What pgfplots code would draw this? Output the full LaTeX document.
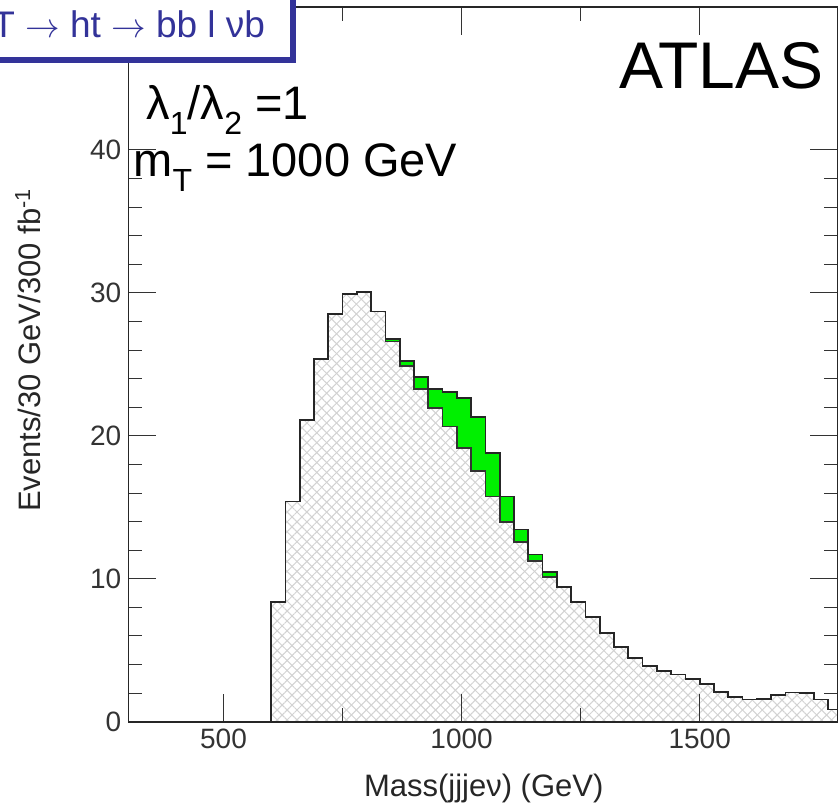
\documentclass[border=0pt]{standalone}
\usepackage{fontspec}
\setmainfont{Liberation Sans}
\usepackage{pgfplots}
\pgfplotsset{compat=1.18}
\usepackage{pgfplotstable}
\usetikzlibrary{patterns.meta}

\definecolor{sig}{RGB}{0,240,0}
\definecolor{boxblue}{RGB}{51,51,153}
\newcommand{\sub}[1]{\raisebox{-0.3em}{\fontsize{16}{16}\selectfont #1}}

% bin left edges (30 GeV), background and background+signal
\pgfplotstableread{
x bg tot
300 0 0
600 8.4 8.4
630 15.4 15.4
660 21.1 21.1
690 25.4 25.4
720 28.5 28.5
750 29.95 29.95
780 30.05 30.05
810 28.7 28.7
840 26.6 26.75
870 24.9 25.25
900 23.3 24.1
930 21.95 23.3
960 20.65 23.05
990 19.15 22.65
1020 17.55 21.3
1050 15.75 18.8
1080 13.95 15.75
1110 12.55 13.45
1140 11.25 11.7
1170 10.15 10.45
1200 9.4 9.4
1230 8.35 8.35
1260 7.3 7.3
1290 6.2 6.2
1320 5.25 5.25
1350 4.45 4.45
1380 3.9 3.9
1410 3.55 3.55
1440 3.3 3.3
1470 3.0 3.0
1500 2.65 2.65
1530 2.1 2.1
1560 1.75 1.75
1590 1.55 1.55
1620 1.6 1.6
1650 1.85 1.85
1680 2.05 2.05
1710 2.0 2.0
1740 1.55 1.55
1770 0.85 0.85
1800 0.85 0.85
}\hist

\begin{document}
\begin{tikzpicture}
\begin{axis}[
  scale only axis, width=354.75pt, height=357.35pt,
  xmin=300, xmax=1790, ymin=0, ymax=50,
  xtick={500,1000,1500}, minor x tick num=1,
  ytick={0,10,20,30,40}, minor y tick num=4,
  tick align=inside, major tick length=14pt, minor tick length=7pt,
  every tick/.style={black!80, line width=0.5pt},
  axis line style={black!85, line width=0.8pt},
  /pgf/number format/assume math mode=true,
  /pgf/number format/1000 sep={},
  tick label style={font=\fontsize{14}{16}\selectfont, text=black!80},
  xlabel={Mass(jjjeν) (GeV)},
  ylabel={Events/30 GeV/300 fb\textsuperscript{-1}},
  label style={font=\fontsize{15.5}{18}\selectfont, text=black!85},
  xlabel style={at={(axis description cs:0.501,-0.0928)}, anchor=center},
  ylabel style={at={(axis description cs:-0.1414,0.52)}, anchor=center},
  axis on top,
]
\addplot[const plot, fill=sig, draw=none] table[x=x, y=tot] {\hist} \closedcycle;
\addplot[const plot, fill=white, draw=none] table[x=x, y=bg] {\hist} \closedcycle;
\addplot[const plot, draw=none, pattern={Lines[angle=45, distance=3.5pt, line width=0.5pt]}, pattern color=gray!35] table[x=x, y=bg] {\hist} \closedcycle;
\addplot[const plot, draw=none, pattern={Lines[angle=-45, distance=3.5pt, line width=0.5pt]}, pattern color=gray!35] table[x=x, y=bg] {\hist} \closedcycle;
\addplot[const plot, black!80, line width=0.9pt] table[x=x, y=bg] {\hist};
\addplot[const plot, black!85, line width=0.9pt] table[x=x, y=tot] {\hist};
\end{axis}

% pixel-like frame: (0,0) top left of the picture, 838 x 809
\begin{scope}[x=0.5pt, y=-0.5pt, shift={(-64.15pt,360.85pt)}]
  \node[anchor=base west, inner sep=0, font=\fontsize{23.5}{23.5}\selectfont] at (146,120) {λ\sub{1}/λ\sub{2} =1};
  \node[anchor=base west, inner sep=0, font=\fontsize{23.5}{23.5}\selectfont] at (133,177) {m\sub{T} = 1000 GeV};
  \node[anchor=base west, inner sep=0, font=\fontsize{33}{33}\selectfont] at (619,89) {ATLAS};
  \draw[boxblue, line width=2.8pt, fill=white] (-20,-20) rectangle (293,60);
  \node[anchor=base west, inner sep=0, text=boxblue, font=\fontsize{18.5}{18.5}\selectfont] at (-8,38) {T $\rightarrow$ ht $\rightarrow$ bb l νb};
  \pgfresetboundingbox
  \useasboundingbox (0,0) rectangle (838,809);
\end{scope}
\end{tikzpicture}
\end{document}
